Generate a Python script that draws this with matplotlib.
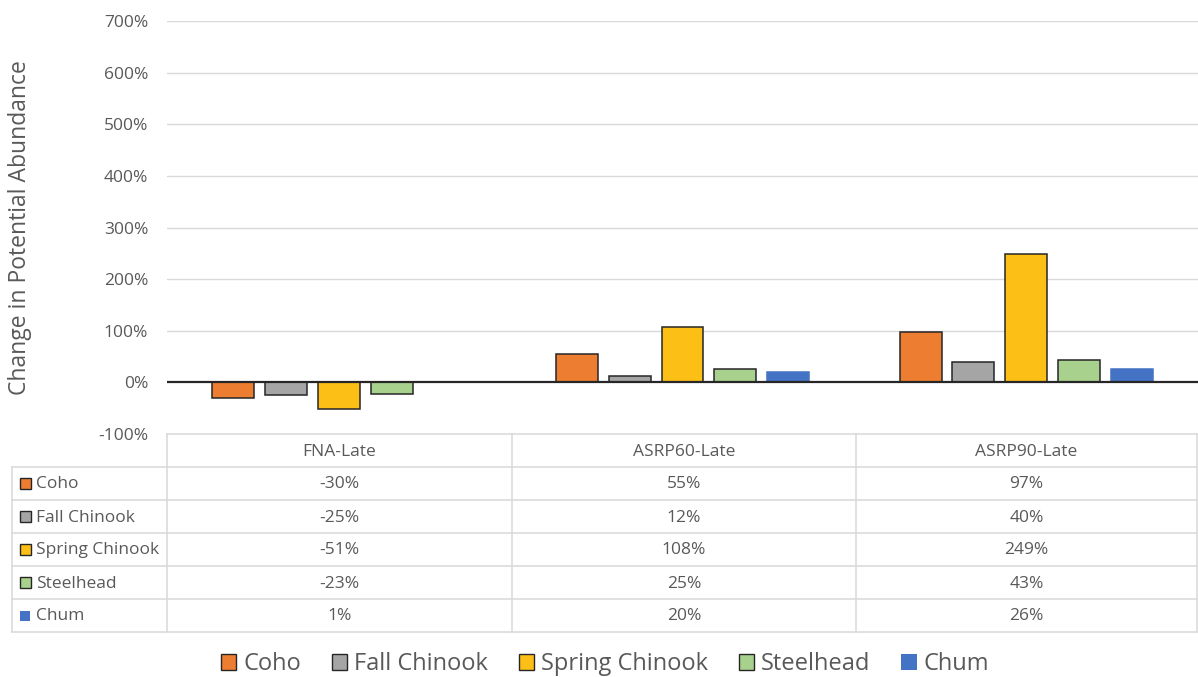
import matplotlib
matplotlib.use("Agg")
import matplotlib.pyplot as plt
from matplotlib.patches import Rectangle
import numpy as np

scenarios = ["FNA-Late", "ASRP60-Late", "ASRP90-Late"]
species = ["Coho", "Fall Chinook", "Spring Chinook", "Steelhead", "Chum"]
coho = [-30, 55, 97]
fall_chinook = [-25, 12, 40]
spring_chinook = [-51, 108, 249]
steelhead = [-23, 25, 43]
chum = [1, 20, 26]
y_ticks = [-100, 0, 100, 200, 300, 400, 500, 600, 700]

series = [coho, fall_chinook, spring_chinook, steelhead, chum]
fills = ["#ED7D31", "#A5A5A5", "#FCBF16", "#A9D18E", "#4472C4"]
edges = ["#262626", "#262626", "#262626", "#262626", "#4472C4"]

plt.rcParams["font.family"] = ["Open Sans", "DejaVu Sans"]
TXT = "#595959"
GRID = "#D9D9D9"
FS = 12.5

W, H = 1198, 677
fig = plt.figure(figsize=(W / 100, H / 100), dpi=100)

# plot area in pixel units
px_l, px_r, px_t, px_b = 167, 1198, 21, 434
ax = fig.add_axes([px_l / W, 1 - px_b / H, (px_r - px_l) / W, (px_b - px_t) / H])
ax.set_xlim(-0.5, len(scenarios) - 0.5)
ax.set_ylim(-100, 700)
for s in ax.spines.values():
    s.set_visible(False)
ax.set_xticks([])
ax.set_yticks(y_ticks)
ax.set_yticklabels([f"{v}%" for v in y_ticks], color=TXT, fontsize=FS)
ax.tick_params(axis="y", length=0, pad=13.5)
for v in y_ticks:
    if v != 0:
        ax.axhline(v, color=GRID, lw=1, zorder=0)
ax.axhline(0, color="#262626", lw=1.6, zorder=3)

x = np.arange(len(scenarios))
pitch = 0.1536
width = 0.122
for i, vals in enumerate(series):
    ax.bar(x + (i - 2) * pitch, vals, width=width, color=fills[i],
           edgecolor=edges[i], linewidth=1.1, zorder=2)

fig.text(20 / W, 1 - 228 / H, "Change in Potential Abundance", rotation=90,
         ha="center", va="center", color=TXT, fontsize=16.5)

# data table drawn on a full-figure overlay in pixel coordinates
ov = fig.add_axes([0, 0, 1, 1], zorder=5)
ov.set_xlim(0, W)
ov.set_ylim(H, 0)
ov.axis("off")
ov.patch.set_alpha(0)

tbl_left = 12
col_edges = [px_l, 512, 856, px_r - 1]
row_top = px_b
row_h = 33
hdr_bot = row_top + row_h
rows_bot = hdr_bot + row_h * len(species)

lkw = dict(color=GRID, lw=1.1)
ov.plot([px_l, px_r - 1], [row_top, row_top], **lkw)
ov.plot([tbl_left, px_r - 1], [hdr_bot, hdr_bot], **lkw)
for k in range(1, len(species) + 1):
    yy = hdr_bot + row_h * k
    ov.plot([tbl_left, px_r - 1], [yy, yy], **lkw)
for xe in col_edges:
    ov.plot([xe, xe], [row_top, rows_bot], **lkw)
ov.plot([tbl_left, tbl_left], [hdr_bot, rows_bot], **lkw)

for j, name in enumerate(scenarios):
    cx = (col_edges[j] + col_edges[j + 1]) / 2
    ov.text(cx, row_top + row_h / 2 + 1, name, ha="center", va="center",
            color=TXT, fontsize=FS)

for i, name in enumerate(species):
    cy = hdr_bot + row_h * i + row_h / 2
    if i < 4:
        ov.add_patch(Rectangle((20, cy - 5.5), 11, 11, facecolor=fills[i],
                               edgecolor="#262626", lw=1.0))
    else:
        ov.add_patch(Rectangle((20, cy - 5), 10, 10, facecolor=fills[i],
                               edgecolor="none"))
    ov.text(36, cy + 1, name, ha="left", va="center", color=TXT, fontsize=FS)
    for j in range(len(scenarios)):
        cx = (col_edges[j] + col_edges[j + 1]) / 2
        ov.text(cx, cy + 1, f"{series[i][j]}%", ha="center", va="center",
                color=TXT, fontsize=FS)

# legend
handles = [Rectangle((0, 0), 1, 1, facecolor=fills[i],
                     edgecolor=edges[i] if i < 4 else "none", lw=1.0)
           for i in range(len(species))]
fig.legend(handles, species, loc="center", bbox_to_anchor=(605 / W, 1 - 664 / H),
           ncol=5, frameon=False, fontsize=17, labelcolor=TXT,
           handlelength=0.65, handleheight=0.65, handletextpad=0.3,
           columnspacing=1.3)

fig.savefig("out.png", dpi=100)
